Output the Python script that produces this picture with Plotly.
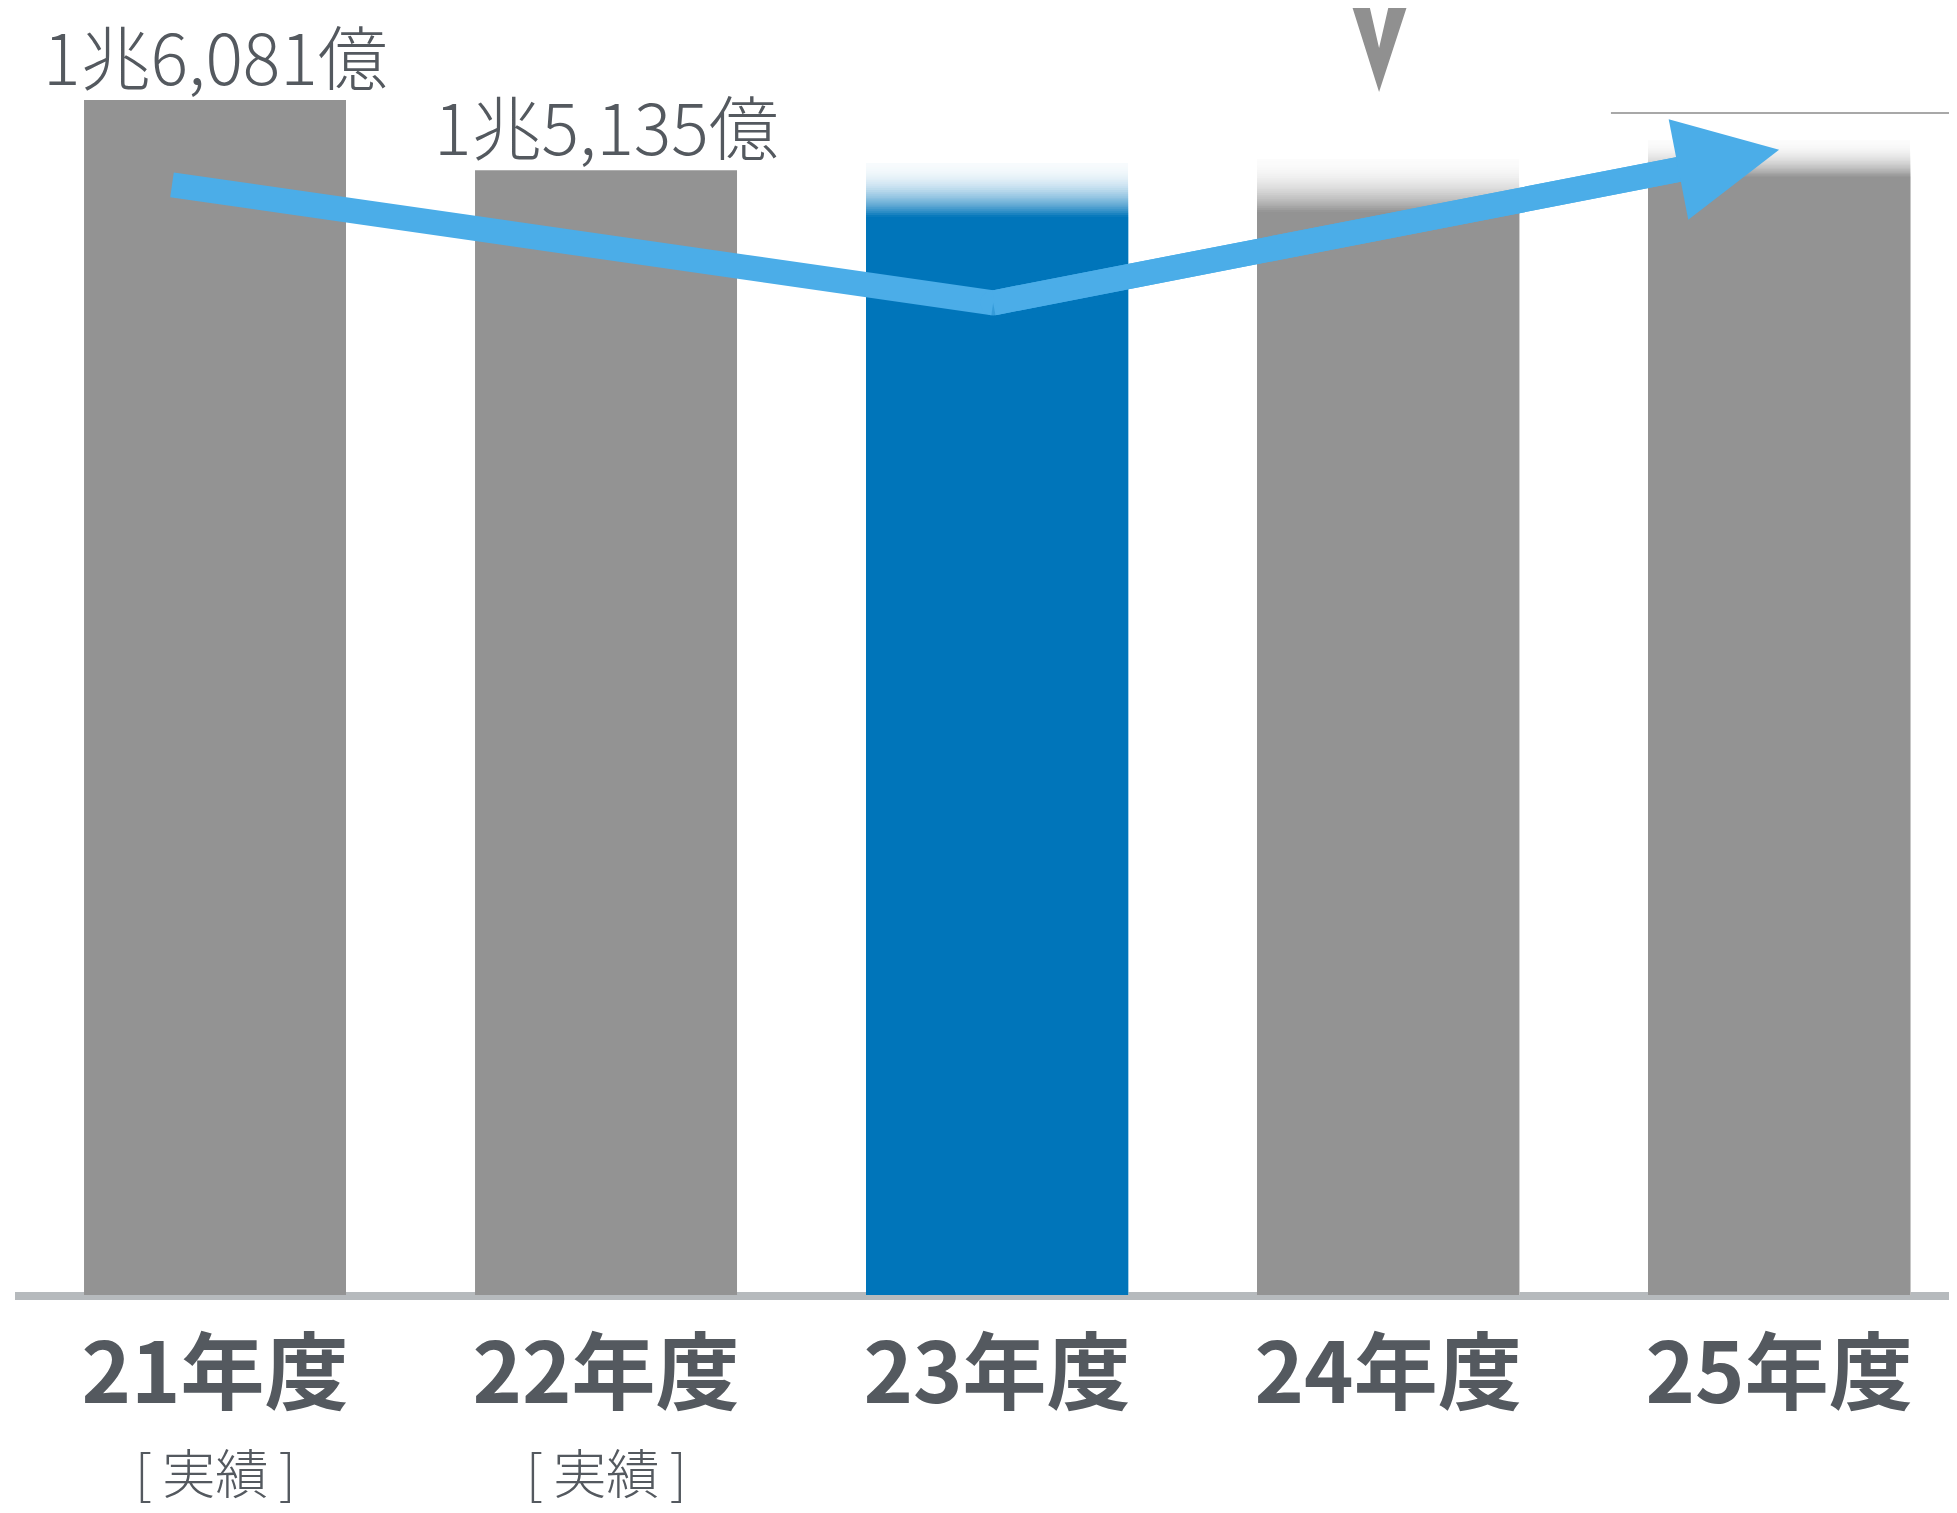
import plotly.graph_objects as go

# ---- data ----
categories = ["21年度", "22年度", "23年度", "24年度", "25年度"]
sub_labels = ["[\u2009実績\u2009]", "[\u2009実績\u2009]", "", "", ""]
solid_values = [16081, 15135, 14507, 14574, 15045]      # solid part of bars (億円)
fade_tops = [None, None, 15233, 15287, 15543]           # top of faded forecast part
value_labels = [16081, 15135, None, None, None]
bar_colors = ["#939393", "#939393", "#0075BA", "#939393", "#939393"]

trend_x = [-0.11, 1.99, 4.0]
trend_y = [14940, 13350, 15410]

# ---- style ----
FONT = "Noto Sans CJK JP"
TEXT_COLOR = "#54595f"
ARROW_COLOR = "#4BADE8"
Y_MAX = 17319
BAR_W = 0.67
N_FADE = 28
LINE_W = 25

idx = list(range(len(categories)))


def hex_to_rgb(h):
    h = h.lstrip("#")
    return tuple(int(h[i:i + 2], 16) for i in (0, 2, 4))


def blend(hexcol, w):
    r, g, b = hex_to_rgb(hexcol)
    return "rgb({},{},{})".format(
        round(255 + (r - 255) * w), round(255 + (g - 255) * w), round(255 + (b - 255) * w)
    )


fig = go.Figure()

# faded tops (overlayed, tallest/lightest first)
for k in range(N_FADE):
    t = (k + 0.5) / N_FADE
    w = 0.03 + 0.97 * t ** 2
    ys, cols = [], []
    for i in idx:
        if fade_tops[i] is None:
            ys.append(None)
            cols.append("rgba(0,0,0,0)")
        else:
            h = (fade_tops[i] - solid_values[i]) / N_FADE
            ys.append(fade_tops[i] - k * h)
            cols.append(blend(bar_colors[i], w))
    fig.add_trace(go.Bar(x=idx, y=ys, width=BAR_W, marker=dict(color=cols, line=dict(width=0)),
                         hoverinfo="skip", showlegend=False))

# solid bars
fig.add_trace(go.Bar(x=idx, y=solid_values, width=BAR_W,
                     marker=dict(color=bar_colors, line=dict(width=0)),
                     hoverinfo="skip", showlegend=False))

# trend line: first segment (with round dot at the bend to close the joint)
fig.add_trace(go.Scatter(x=trend_x[:2], y=trend_y[:2], mode="lines+markers",
                         line=dict(color=ARROW_COLOR, width=LINE_W),
                         marker=dict(size=[0, LINE_W], color=ARROW_COLOR, line=dict(width=0)),
                         hoverinfo="skip", showlegend=False, cliponaxis=False))
# second segment, backed off at the end for the arrow head
fig.add_trace(go.Scatter(x=trend_x[1:], y=trend_y[1:], mode="lines+markers",
                         line=dict(color=ARROW_COLOR, width=LINE_W, backoff=70),
                         marker=dict(size=0.1, color=ARROW_COLOR, opacity=0),
                         hoverinfo="skip", showlegend=False, cliponaxis=False))

annotations = []
# arrow head
annotations.append(dict(x=trend_x[-1], y=trend_y[-1], ax=trend_x[-2], ay=trend_y[-2],
                        xref="x", yref="y", axref="x", ayref="y", text="",
                        showarrow=True, arrowhead=2, arrowwidth=LINE_W, arrowsize=0.82,
                        arrowcolor=ARROW_COLOR))

# value labels
for i in idx:
    v = value_labels[i]
    if v is None:
        continue
    txt = f"{v // 10000}兆{v % 10000:,}億"
    annotations.append(dict(x=i, y=v, xref="x", yref="y", text=txt, showarrow=False,
                            yanchor="middle", yshift=46,
                            font=dict(family=FONT, size=70, color=TEXT_COLOR, weight=300)))

# sub labels
for i in idx:
    if sub_labels[i]:
        annotations.append(dict(x=i, y=0, xref="x", yref="paper", text=sub_labels[i],
                                showarrow=False, yanchor="middle", yshift=-176,
                                font=dict(family=FONT, size=53, color=TEXT_COLOR, weight=300)))

shapes = [
    # baseline
    dict(type="line", xref="paper", yref="paper", x0=0, x1=1, y0=-0.0008, y1=-0.0008,
         line=dict(color="#b6babd", width=8), layer="below"),
    # thin line top right
    dict(type="line", xref="paper", yref="paper", x0=0.8218, x1=1.0, y0=0.9184, y1=0.9184,
         line=dict(color="#a8a8a8", width=2)),
    # V mark above 24年度
    dict(type="path", xref="x", yref="paper", xsizemode="pixel", ysizemode="pixel",
         xanchor=3, yanchor=1,
         path="M-38,8 L-9,-84 L21,8 L2,8 L-9,-40 L-20,8 Z",
         fillcolor="#909090", line=dict(width=0)),
]

fig.update_layout(
    width=1949, height=1505,
    margin=dict(l=7, r=0, t=0, b=218),
    paper_bgcolor="white", plot_bgcolor="white",
    barmode="overlay",
    font=dict(family=FONT, color=TEXT_COLOR),
    xaxis=dict(range=[-0.5115, 4.455], tickmode="array", tickvals=idx, ticktext=categories,
               showgrid=False, zeroline=False, showline=False, ticks="",
               tickfont=dict(family=FONT, size=84, color=TEXT_COLOR, weight="bold"),
               ticklabelstandoff=23),
    yaxis=dict(range=[0, Y_MAX], visible=False, showgrid=False, zeroline=False),
    annotations=annotations,
    shapes=shapes,
    showlegend=False,
)

fig.write_html("out.html")
